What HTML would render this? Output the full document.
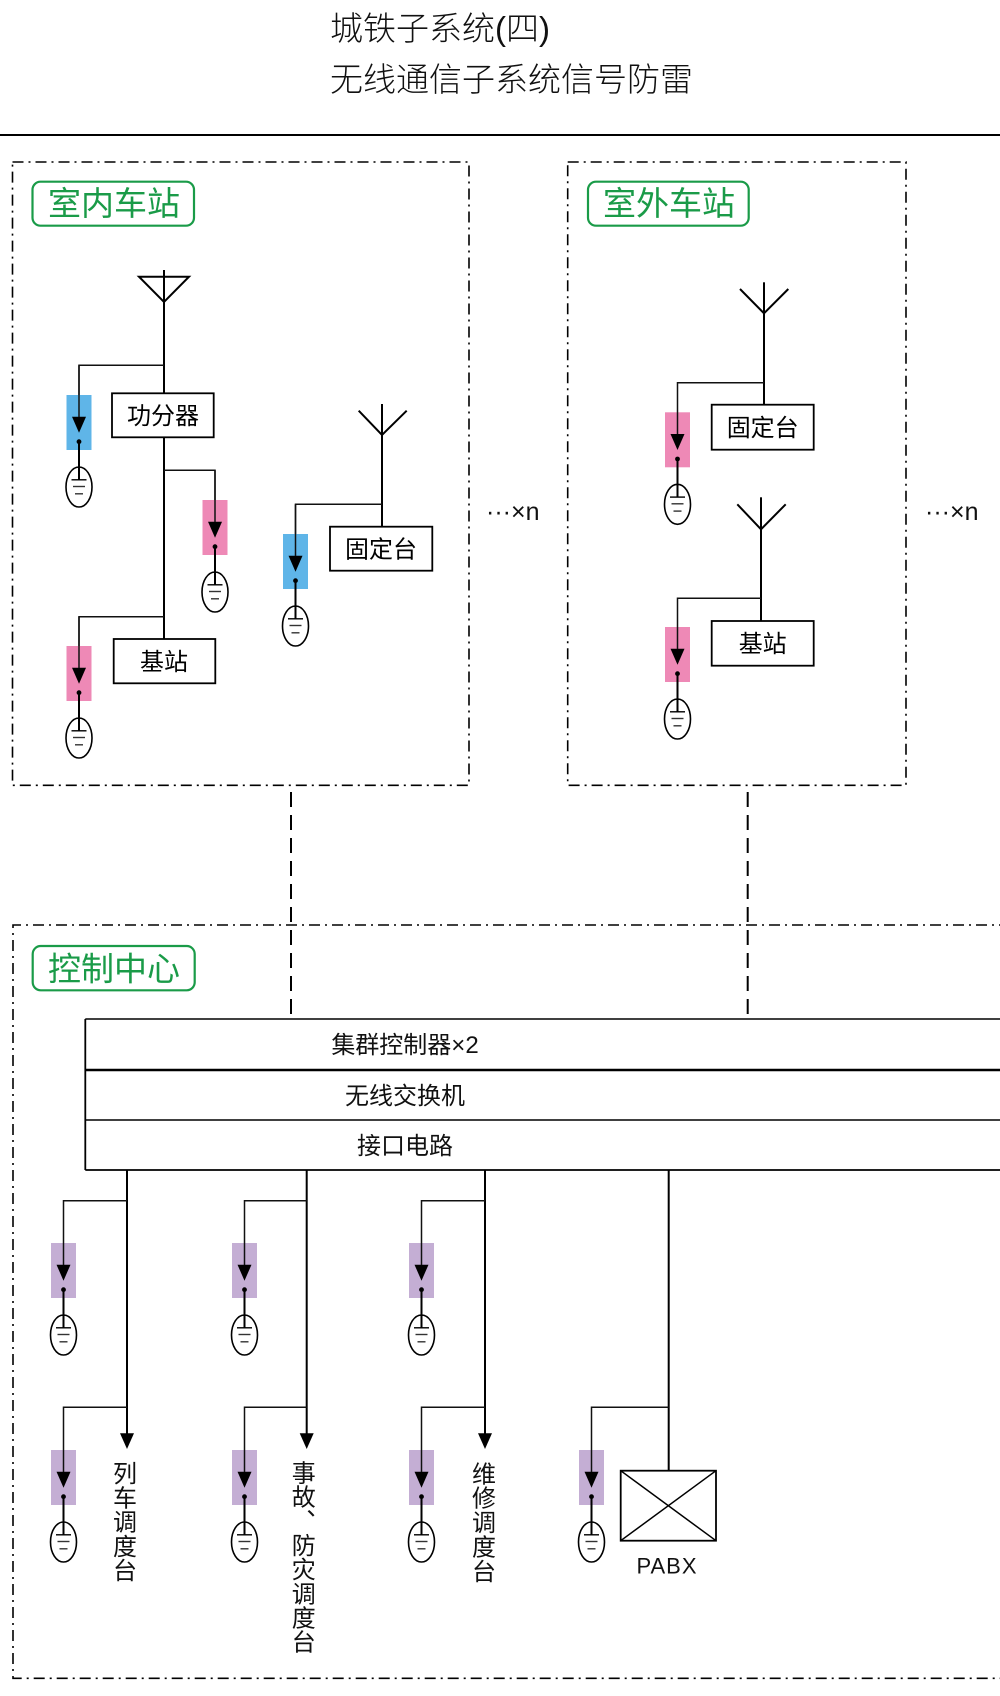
<!DOCTYPE html>
<html>
<head>
<meta charset="utf-8">
<style>
html,body{margin:0;padding:0;background:#fff;}
body{width:1000px;height:1696px;overflow:hidden;position:relative;}
svg{position:absolute;left:0;top:0;}
text{font-family:"Liberation Sans","Noto Sans CJK SC",sans-serif;}
</style>
</head>
<body>
<svg width="1000" height="1696" viewBox="0 0 1000 1696" xmlns="http://www.w3.org/2000/svg">
<defs>
  <g id="sp">
    <rect x="-12.5" y="0" width="25" height="55" fill="currentColor"/>
    <polygon points="-7,21.7 7,21.7 0,37.7" fill="#000"/>
    <circle cx="0" cy="46.7" r="2.4" fill="#000"/>
    <line x1="0" y1="46.7" x2="0" y2="84.8" stroke="#000" stroke-width="2"/>
    <ellipse cx="0" cy="92" rx="13" ry="20" fill="none" stroke="#000" stroke-width="1.6"/>
    <line x1="-7.5" y1="84.8" x2="7.5" y2="84.8" stroke="#000" stroke-width="1.4"/>
    <line x1="-6" y1="91.5" x2="6" y2="91.5" stroke="#333" stroke-width="1.4"/>
    <line x1="-4" y1="98.8" x2="4" y2="98.8" stroke="#333" stroke-width="1.4"/>
  </g>
</defs>

<!-- Title -->
<text x="330" y="40" font-size="33" font-weight="300" fill="#111">城铁子系统(四)</text>
<text x="330" y="91" font-size="33" font-weight="300" fill="#111">无线通信子系统信号防雷</text>
<line x1="0" y1="135" x2="1000" y2="135" stroke="#000" stroke-width="2"/>

<!-- Dash-dot boxes -->
<g fill="none" stroke="#000" stroke-width="1.6" stroke-dasharray="11 5 2 5">
  <rect x="12.5" y="162" width="456.5" height="623.3"/>
  <rect x="567.7" y="162" width="338.3" height="623.3"/>
  <path d="M1010,925 L13,925 L13,1678.3 L1010,1678.3"/>
</g>

<!-- Dashed connectors -->
<g stroke="#000" stroke-width="2" stroke-dasharray="15 8">
  <line x1="291" y1="792" x2="291" y2="1019"/>
  <line x1="747.7" y1="792" x2="747.7" y2="1019"/>
</g>

<!-- Green labels -->
<g fill="none" stroke="#1a9b48" stroke-width="2.2">
  <rect x="32.5" y="181.7" width="161.5" height="44" rx="8"/>
  <rect x="588" y="181.7" width="160.7" height="44" rx="8"/>
  <rect x="32.7" y="946" width="162" height="44.3" rx="8"/>
</g>
<g fill="#1a9b48" font-size="33" text-anchor="middle">
  <text x="114" y="215">室内车站</text>
  <text x="669" y="215">室外车站</text>
  <text x="114" y="980.5">控制中心</text>
</g>

<!-- ===== Left box (indoor) ===== -->
<line x1="164" y1="270" x2="164" y2="393.3" stroke="#000" stroke-width="2"/>
<polygon points="139,276.7 189,276.7 164,302" fill="none" stroke="#000" stroke-width="2"/>
<line x1="164" y1="437.3" x2="164" y2="639" stroke="#000" stroke-width="2"/>
<rect x="112" y="393.3" width="101.7" height="44" fill="#fff" stroke="#000" stroke-width="1.8"/>
<text x="163" y="424" font-size="24" text-anchor="middle">功分器</text>
<rect x="113.7" y="639" width="101.6" height="44.3" fill="#fff" stroke="#000" stroke-width="1.8"/>
<text x="164" y="670" font-size="24" text-anchor="middle">基站</text>

<line x1="382" y1="404" x2="382" y2="526.7" stroke="#000" stroke-width="2"/>
<polyline points="358.7,410.7 382,435 406.7,410.7" fill="none" stroke="#000" stroke-width="2"/>
<rect x="330" y="526.7" width="102.3" height="44" fill="#fff" stroke="#000" stroke-width="1.8"/>
<text x="381" y="557.5" font-size="24" text-anchor="middle">固定台</text>

<g fill="none" stroke="#111" stroke-width="1.5">
  <polyline points="164,365.3 79,365.3 79,417"/>
  <polyline points="164,470.3 215,470.3 215,522"/>
  <polyline points="382,504.3 295.5,504.3 295.5,556"/>
  <polyline points="164,616.7 79,616.7 79,668"/>
</g>
<use href="#sp" x="79" y="395" style="color:#5fb5e8"/>
<use href="#sp" x="215" y="500" style="color:#ee89b6"/>
<use href="#sp" x="295.5" y="534" style="color:#5fb5e8"/>
<use href="#sp" x="79" y="646" style="color:#ee89b6"/>
<g fill="none" stroke="#111" stroke-width="1.5">
  <line x1="79" y1="365.3" x2="79" y2="417"/>
  <line x1="215" y1="470.3" x2="215" y2="522"/>
  <line x1="295.5" y1="504.3" x2="295.5" y2="556"/>
  <line x1="79" y1="616.7" x2="79" y2="668"/>
</g>

<text x="486" y="520" font-size="25" fill="#111">···×n</text>
<text x="925" y="520" font-size="25" fill="#111">···×n</text>

<!-- ===== Right box (outdoor) ===== -->
<line x1="764" y1="282.3" x2="764" y2="404.7" stroke="#000" stroke-width="2"/>
<polyline points="740,289 764,313.3 788.3,289" fill="none" stroke="#000" stroke-width="2"/>
<rect x="711.7" y="404.7" width="102" height="45" fill="#fff" stroke="#000" stroke-width="1.8"/>
<text x="762.7" y="436" font-size="24" text-anchor="middle">固定台</text>

<line x1="761" y1="497.3" x2="761" y2="621" stroke="#000" stroke-width="2"/>
<polyline points="737.3,504.3 761,529.3 785.7,504.3" fill="none" stroke="#000" stroke-width="2"/>
<rect x="711.7" y="621" width="102" height="44.7" fill="#fff" stroke="#000" stroke-width="1.8"/>
<text x="762.7" y="652" font-size="24" text-anchor="middle">基站</text>

<use href="#sp" x="677.5" y="412.3" style="color:#ee89b6"/>
<use href="#sp" x="677.5" y="627" style="color:#ee89b6"/>
<g fill="none" stroke="#111" stroke-width="1.5">
  <polyline points="764,382.7 677.5,382.7 677.5,434"/>
  <polyline points="761,598.3 677.5,598.3 677.5,649"/>
</g>

<!-- ===== Control center ===== -->
<g stroke="#000" fill="none">
  <line x1="85.3" y1="1019" x2="1005" y2="1019" stroke-width="1.6"/>
  <line x1="85.3" y1="1070" x2="1005" y2="1070" stroke-width="2.4"/>
  <line x1="85.3" y1="1120" x2="1005" y2="1120" stroke-width="1.6"/>
  <line x1="85.3" y1="1170" x2="1005" y2="1170" stroke-width="1.8"/>
  <line x1="85.3" y1="1019" x2="85.3" y2="1170" stroke-width="1.8"/>
</g>
<g font-size="24" text-anchor="middle" fill="#111">
  <text x="405" y="1053">集群控制器×2</text>
  <text x="405" y="1104">无线交换机</text>
  <text x="405" y="1154">接口电路</text>
</g>

<g stroke="#000" stroke-width="2">
  <line x1="127" y1="1170" x2="127" y2="1435"/>
  <line x1="306.7" y1="1170" x2="306.7" y2="1435"/>
  <line x1="485" y1="1170" x2="485" y2="1435"/>
  <line x1="668.7" y1="1170" x2="668.7" y2="1470.7"/>
</g>
<g fill="#000">
  <polygon points="120,1433.3 134,1433.3 127,1449"/>
  <polygon points="299.7,1433.3 313.7,1433.3 306.7,1449"/>
  <polygon points="478,1433.3 492,1433.3 485,1449"/>
</g>

<use href="#sp" x="63.5" y="1243" style="color:#c4aed4"/>
<use href="#sp" x="244.5" y="1243" style="color:#c4aed4"/>
<use href="#sp" x="421.5" y="1243" style="color:#c4aed4"/>
<use href="#sp" x="63.5" y="1450" style="color:#c4aed4"/>
<use href="#sp" x="244.5" y="1450" style="color:#c4aed4"/>
<use href="#sp" x="421.5" y="1450" style="color:#c4aed4"/>
<use href="#sp" x="591.5" y="1450" style="color:#c4aed4"/>
<g fill="none" stroke="#111" stroke-width="1.5">
  <polyline points="127,1200.7 63.5,1200.7 63.5,1265"/>
  <polyline points="306.7,1200.7 244.5,1200.7 244.5,1265"/>
  <polyline points="485,1200.7 421.5,1200.7 421.5,1265"/>
  <polyline points="127,1407.3 63.5,1407.3 63.5,1472"/>
  <polyline points="306.7,1407.3 244.5,1407.3 244.5,1472"/>
  <polyline points="485,1407.3 421.5,1407.3 421.5,1472"/>
  <polyline points="668.7,1407.3 591.5,1407.3 591.5,1472"/>
</g>

<!-- PABX -->
<rect x="620.7" y="1470.7" width="95.3" height="70" fill="#fff" stroke="#000" stroke-width="1.8"/>
<line x1="620.7" y1="1470.7" x2="716" y2="1540.7" stroke="#000" stroke-width="1.5"/>
<line x1="716" y1="1470.7" x2="620.7" y2="1540.7" stroke="#000" stroke-width="1.5"/>
<text x="667" y="1573.5" font-size="22" letter-spacing="1" text-anchor="middle" fill="#111">PABX</text>

<!-- vertical labels -->
<g font-size="24" text-anchor="middle" fill="#111">
  <text x="125" y="1482">列</text>
  <text x="125" y="1506.25">车</text>
  <text x="125" y="1530.5">调</text>
  <text x="125" y="1554.75">度</text>
  <text x="125" y="1579">台</text>

  <text x="303.8" y="1481.5">事</text>
  <text x="303.8" y="1505.7">故</text>
  <text x="303.8" y="1529.8">︑</text>
  <text x="303.8" y="1554">防</text>
  <text x="303.8" y="1578.2">灾</text>
  <text x="303.8" y="1602.3">调</text>
  <text x="303.8" y="1626.5">度</text>
  <text x="303.8" y="1650.7">台</text>

  <text x="484" y="1482.3">维</text>
  <text x="484" y="1506.7">修</text>
  <text x="484" y="1531.1">调</text>
  <text x="484" y="1555.5">度</text>
  <text x="484" y="1579.9">台</text>
</g>
</svg>
</body>
</html>
